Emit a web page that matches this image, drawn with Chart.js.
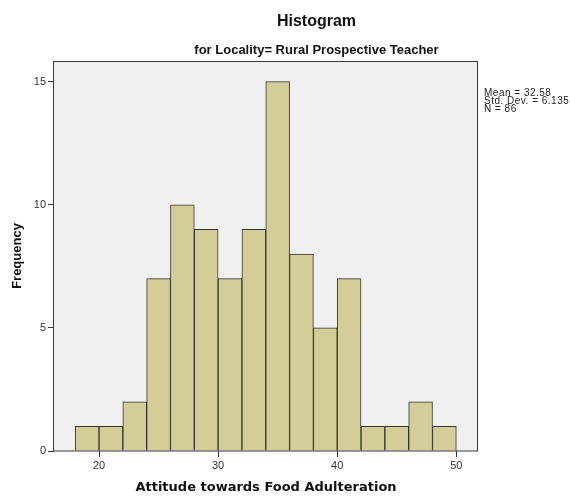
<!DOCTYPE html>
<html>
<head>
<meta charset="utf-8">
<script src="https://cdn.jsdelivr.net/npm/chart.js@4/dist/chart.umd.min.js"></script>
<style>
  html, body { margin: 0; padding: 0; background: #ffffff; }
  #wrap { position: relative; width: 570px; height: 496px; }
  #stats {
    position: absolute; left: 484px; top: 88.5px;
    font-family: "Liberation Sans", Arial, sans-serif; font-size: 10px;
    letter-spacing: 0.5px; line-height: 8.3px; color: #222; white-space: nowrap;
  }
</style>
</head>
<body>
<div id="wrap">
  <canvas id="c" width="570" height="496"></canvas>
  <div id="stats"></div>
</div>
<script>
// ---- data ----
const binCenters = [19, 21, 23, 25, 27, 29, 31, 33, 35, 37, 39, 41, 43, 45, 47, 49];
const frequencies = [1, 1, 2, 7, 10, 9, 7, 9, 15, 8, 5, 7, 1, 1, 2, 1];
const xTicks = [20, 30, 40, 50];
const yTicks = [0, 5, 10, 15];
const statsLines = ["Mean = 32.58", "Std. Dev. = 6.135", "N = 86"];
const chartTitle = "Histogram";
const chartSubtitle = "for Locality= Rural Prospective Teacher";
const xTitle = "Attitude towards Food Adulteration";
const yTitle = "Frequency";

document.getElementById('stats').innerHTML = statsLines.map(s => '<div>' + s + '</div>').join('');

const frame = {
  id: 'frame',
  beforeDatasetsDraw(chart) {
    const {ctx, chartArea: a} = chart;
    ctx.save();
    ctx.fillStyle = '#F0F0F0';
    ctx.fillRect(a.left, a.top, a.right - a.left, a.bottom - a.top);
    ctx.restore();
  },
  afterDatasetsDraw(chart) {
    const {ctx, chartArea: a} = chart;
    ctx.save();
    ctx.strokeStyle = '#3a3a3a';
    ctx.lineWidth = 1;
    ctx.strokeRect(Math.round(a.left) - 0.5, Math.round(a.top) + 0.5,
                   Math.round(a.right - a.left), Math.round(a.bottom - a.top) - 0.5);
    ctx.restore();
  }
};

const sans = "'Liberation Sans', Arial, sans-serif";

new Chart(document.getElementById('c'), {
  type: 'bar',
  data: {
    datasets: [{
      data: binCenters.map((x, i) => ({x: x, y: frequencies[i]})),
      backgroundColor: '#D3CE97',
      borderColor: '#333333',
      borderWidth: 1,
      borderSkipped: 'start',
      barPercentage: 1,
      categoryPercentage: 1
    }]
  },
  options: {
    responsive: false,
    animation: false,
    devicePixelRatio: 1,
    layout: { padding: { left: 33, right: -30, top: 0, bottom: 0 } },
    plugins: {
      legend: { display: false },
      tooltip: { enabled: false },
      title: {
        display: true, text: chartTitle, color: '#111',
        font: { family: sans, size: 16, weight: 'bold' },
        padding: { top: 12, bottom: 0 }
      },
      subtitle: {
        display: true, text: chartSubtitle, color: '#111',
        font: { family: sans, size: 13, weight: 'bold' },
        padding: { top: 11.4, bottom: 2.8 }
      }
    },
    scales: {
      x: {
        type: 'linear', position: 'bottom', min: 16.22, max: 51.82, offset: false,
        grid: { offset: false, drawOnChartArea: false, drawTicks: true, tickLength: 6, color: '#333', lineWidth: 1 },
        border: { display: false },
        ticks: { color: '#333', padding: 2, font: { family: sans, size: 11 } },
        afterBuildTicks: s => { s.ticks = xTicks.map(v => ({value: v})); },
        afterFit: s => { s.height = 45; },
        title: {
          display: true, text: xTitle, color: '#111',
          font: { family: "'DejaVu Sans', Tahoma, sans-serif", size: 13, weight: 'bold' },
          padding: { top: 0, bottom: 0.8 }
        }
      },
      y: {
        type: 'linear', position: 'left', min: 0, max: 15.84,
        grid: { drawOnChartArea: false, drawTicks: true, tickLength: 6, color: '#333', lineWidth: 1 },
        border: { display: false },
        ticks: { color: '#333', padding: 2, font: { family: sans, size: 11 } },
        afterBuildTicks: s => { s.ticks = yTicks.map(v => ({value: v})); },
        afterFit: s => { s.width = 21; },
        title: {
          display: true, text: yTitle, color: '#111',
          font: { family: sans, size: 13, weight: 'bold' },
          padding: { top: -23.8, bottom: 0 }
        }
      },
      yPad: {
        type: 'linear', position: 'right', display: true,
        grid: { display: false }, border: { display: false },
        ticks: { display: false }, title: { display: false },
        afterFit: s => { s.width = 122; }
      }
    }
  },
  plugins: [frame]
});
</script>
</body>
</html>
